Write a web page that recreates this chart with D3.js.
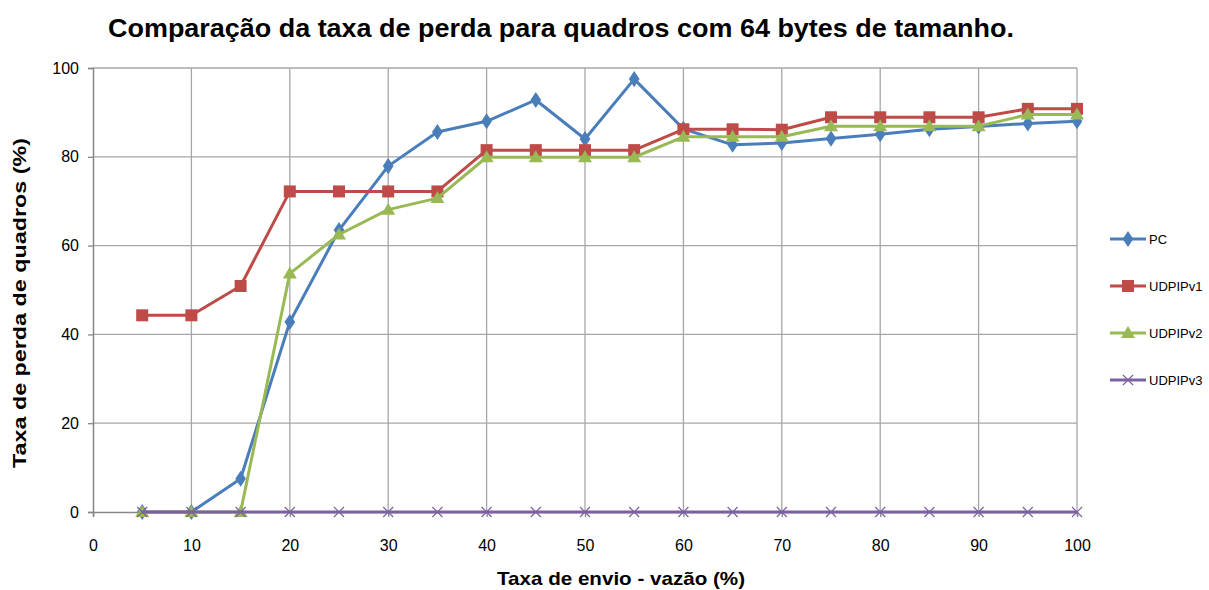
<!DOCTYPE html>
<html>
<head>
<meta charset="utf-8">
<script src="https://cdn.jsdelivr.net/npm/d3@7"></script>
<style>
  body { margin: 0; background: #fff; }
  svg { display: block; font-family: "Liberation Sans", Arial, sans-serif; }
</style>
</head>
<body>
<svg id="chart" width="1209" height="590"></svg>
<script>
// dados
const taxaEnvio = [5, 10, 15, 20, 25, 30, 35, 40, 45, 50, 55, 60, 65, 70, 75, 80, 85, 90, 95, 100];
const pc       = [0, 0, 7.5, 42.8, 63.5, 77.9, 85.6, 88.0, 92.8, 84.0, 97.5, 86.3, 82.7, 83.1, 84.1, 85.1, 86.2, 86.8, 87.5, 88.0];
const udpipv1  = [44.3, 44.3, 50.9, 72.2, 72.2, 72.2, 72.2, 81.5, 81.5, 81.5, 81.5, 86.2, 86.2, 86.1, 88.9, 88.9, 88.9, 88.9, 90.8, 90.8];
const udpipv2  = [0, 0, 0, 53.7, 62.5, 68.1, 70.7, 79.9, 79.9, 79.9, 79.9, 84.5, 84.5, 84.5, 86.9, 86.9, 86.9, 86.9, 89.5, 89.5];
const udpipv3  = [0, 0, 0, 0, 0, 0, 0, 0, 0, 0, 0, 0, 0, 0, 0, 0, 0, 0, 0, 0];
const xTicks = [0, 10, 20, 30, 40, 50, 60, 70, 80, 90, 100];
const yTicks = [0, 20, 40, 60, 80, 100];

const series = [
  { name: "PC", values: pc, color: "#4a7ebb", marker: "diamond" },
  { name: "UDPIPv1", values: udpipv1, color: "#be4b48", marker: "square" },
  { name: "UDPIPv2", values: udpipv2, color: "#98b954", marker: "triangle" },
  { name: "UDPIPv3", values: udpipv3, color: "#7d60a0", marker: "cross" }
];

const svg = d3.select("#chart");
const plotLeft = 93, plotRight = 1077, plotTop = 68, plotBottom = 512;

const x = d3.scaleLinear().domain([0, 100]).range([plotLeft, plotRight]);
const y = d3.scaleLinear().domain([0, 100]).range([plotBottom, plotTop]);

// título
svg.append("text")
  .attr("x", 561).attr("y", 37)
  .attr("text-anchor", "middle")
  .attr("font-size", 26).attr("font-weight", "bold")
  .attr("fill", "#000")
  .attr("textLength", 906).attr("lengthAdjust", "spacingAndGlyphs")
  .text("Comparação da taxa de perda para quadros com 64 bytes de tamanho.");

// grade
const grid = svg.append("g");
grid.selectAll("line.gx").data(xTicks.slice(1)).join("line")
  .attr("x1", d => x(d)).attr("x2", d => x(d))
  .attr("y1", plotTop).attr("y2", plotBottom)
  .attr("stroke", "#a6a6a6").attr("stroke-width", 1.3);
grid.selectAll("line.gy").data(yTicks.slice(1)).join("line")
  .attr("x1", plotLeft).attr("x2", plotRight)
  .attr("y1", d => y(d)).attr("y2", d => y(d))
  .attr("stroke", "#a6a6a6").attr("stroke-width", 1.3);

// eixos
const xAxis = svg.append("g")
  .attr("transform", `translate(0,${plotBottom})`)
  .call(d3.axisBottom(x).tickValues(xTicks).tickSize(5).tickPadding(23));
const yAxis = svg.append("g")
  .attr("transform", `translate(${plotLeft},0)`)
  .call(d3.axisLeft(y).tickValues(yTicks).tickSize(5).tickPadding(9));
[xAxis, yAxis].forEach(a => {
  a.select(".domain").attr("stroke", "#868686").attr("stroke-width", 1.5);
  a.selectAll(".tick line").attr("stroke", "#868686").attr("stroke-width", 1.3);
  a.selectAll(".tick text").attr("font-size", 16).attr("fill", "#000")
    .attr("font-family", "Liberation Sans, Arial, sans-serif");
});

// títulos dos eixos
svg.append("text")
  .attr("x", 621).attr("y", 585)
  .attr("text-anchor", "middle")
  .attr("font-size", 19).attr("font-weight", "bold")
  .attr("textLength", 248).attr("lengthAdjust", "spacingAndGlyphs")
  .text("Taxa de envio - vazão (%)");
svg.append("text")
  .attr("transform", "translate(26,303) rotate(-90)")
  .attr("text-anchor", "middle")
  .attr("font-size", 19).attr("font-weight", "bold")
  .attr("textLength", 330).attr("lengthAdjust", "spacingAndGlyphs")
  .text("Taxa de perda de quadros (%)");

function drawMarker(g, type, color) {
  if (type === "diamond") {
    g.append("path").attr("d", d3.symbol(d3.symbolDiamond, 75)()).attr("fill", color)
      .attr("transform", "scale(1.15,1)");
  } else if (type === "square") {
    g.append("rect").attr("x", -6).attr("y", -6).attr("width", 12).attr("height", 12).attr("fill", color);
  } else if (type === "triangle") {
    g.append("path").attr("d", "M0,-7L7,5L-7,5Z").attr("fill", color);
  } else {
    g.append("path").attr("d", "M-5,-5L5,5M-5,5L5,-5").attr("stroke", color).attr("stroke-width", 1.2).attr("fill", "none");
  }
}

const line = d3.line().x(d => x(d[0])).y(d => y(d[1]));

series.forEach(s => {
  const pts = taxaEnvio.map((t, i) => [t, s.values[i]]);
  const g = svg.append("g");
  g.append("path").datum(pts)
    .attr("d", line)
    .attr("fill", "none")
    .attr("stroke", s.color)
    .attr("stroke-width", 3)
    .attr("stroke-linejoin", "round");
  pts.forEach(p => {
    const m = g.append("g").attr("transform", `translate(${x(p[0])},${y(p[1])})`);
    drawMarker(m, s.marker, s.color);
  });
});

// legenda
const legend = svg.append("g");
series.forEach((s, i) => {
  const ly = 239 + i * 47;
  const lg = legend.append("g");
  lg.append("line").attr("x1", 1110).attr("x2", 1146).attr("y1", ly).attr("y2", ly)
    .attr("stroke", s.color).attr("stroke-width", 3);
  const m = lg.append("g").attr("transform", `translate(1128,${ly})`);
  drawMarker(m, s.marker, s.color);
  lg.append("text").attr("x", 1149).attr("y", ly + 5)
    .attr("font-size", 13).attr("fill", "#000").text(s.name);
});
</script>
</body>
</html>
